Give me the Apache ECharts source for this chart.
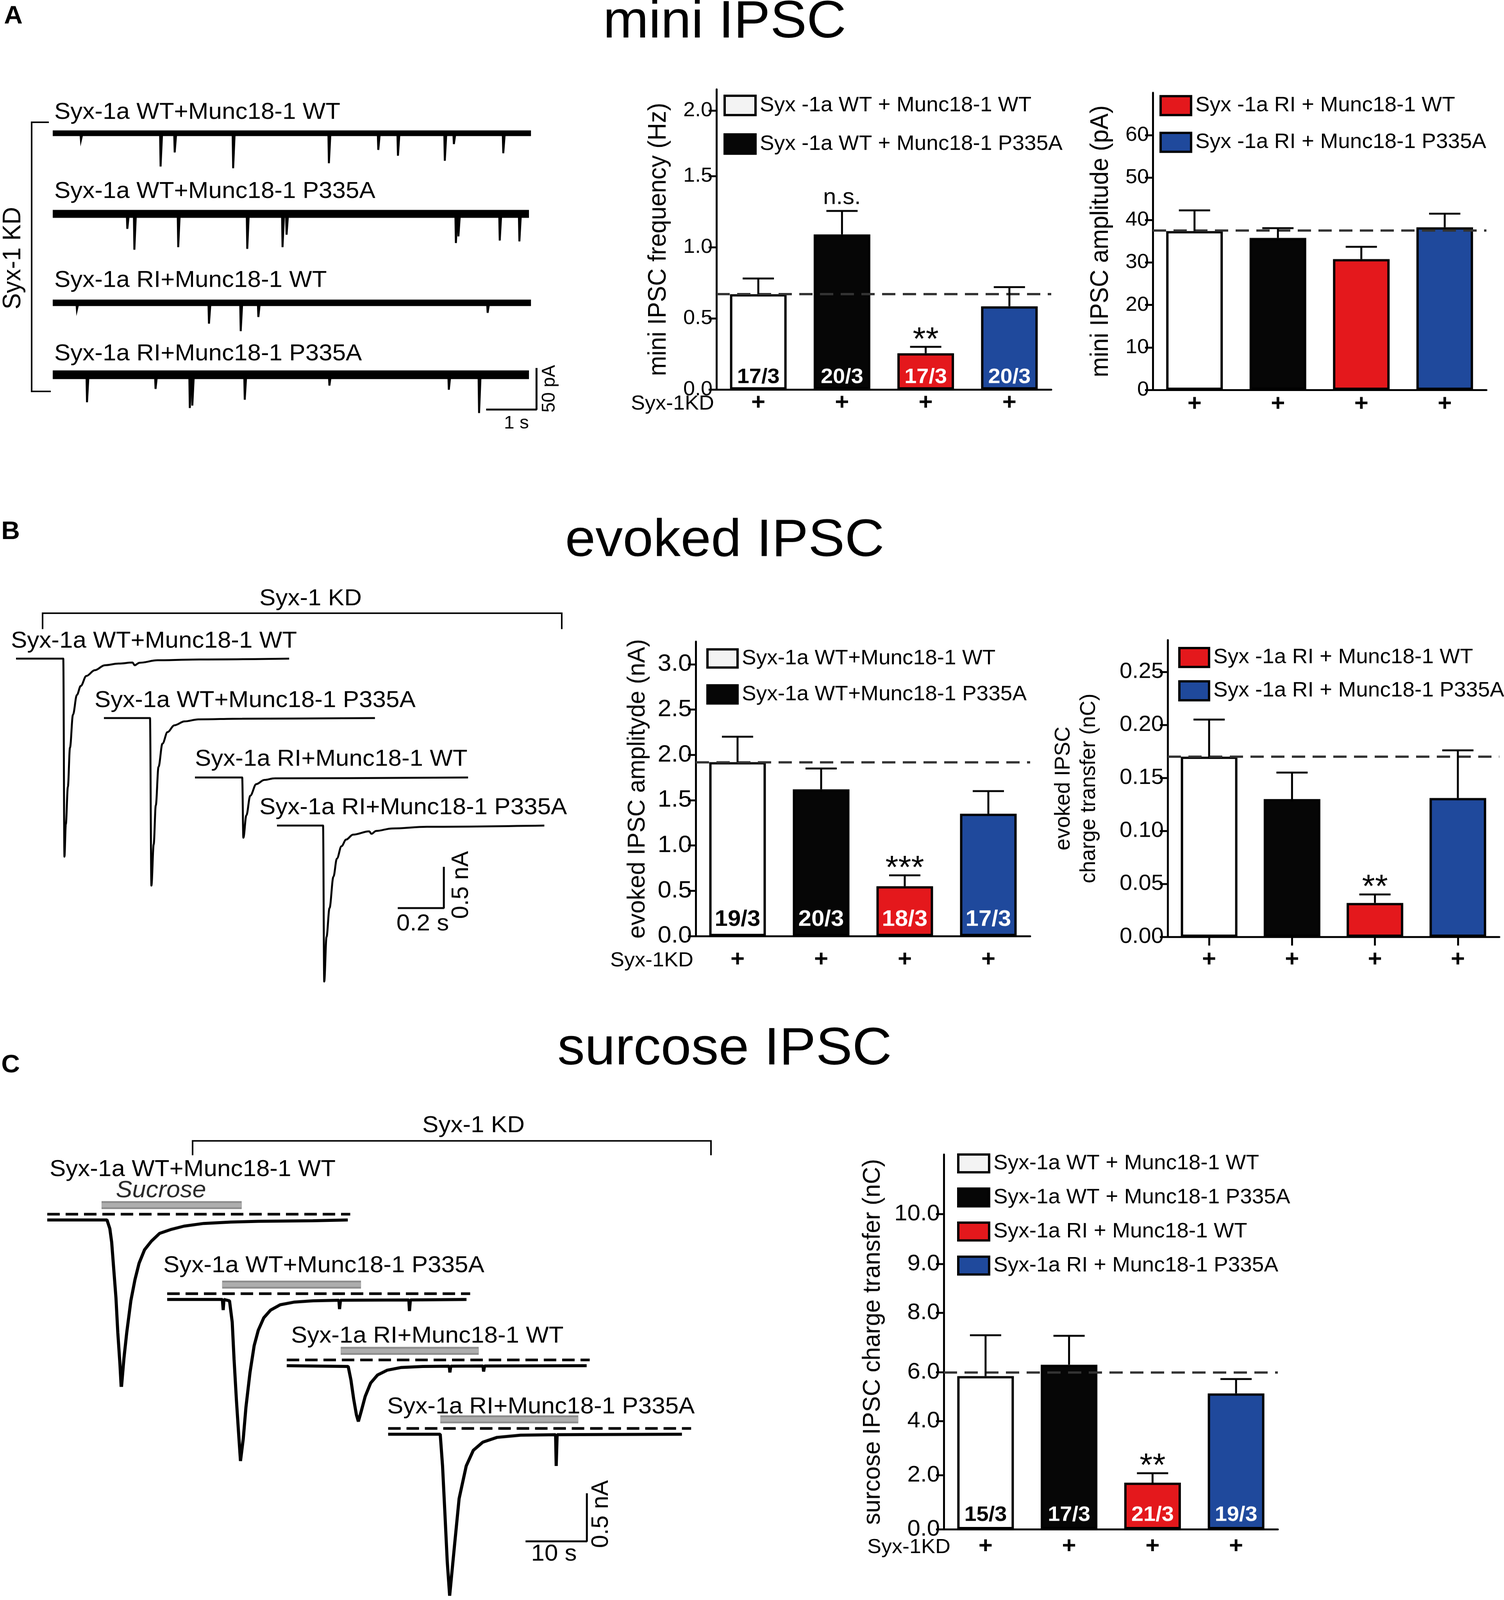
<!DOCTYPE html>
<html>
<head>
<meta charset="utf-8">
<script src="https://cdn.jsdelivr.net/npm/echarts@6/dist/echarts.min.js"></script>
<style>
html, body { margin: 0; padding: 0; background: #fff; overflow: hidden; }
#fig { width: 3850px; height: 4227px; transform-origin: 0 0; }
</style>
</head>
<body>
<div id="fig"></div>
<script>
// ---------------- data ----------------
var groups = ['WT/WT', 'WT/P335A', 'RI/WT', 'RI/P335A'];
var syxKD = ['+', '+', '+', '+'];
var traceNames = ['Syx-1a WT+Munc18-1 WT', 'Syx-1a WT+Munc18-1 P335A', 'Syx-1a RI+Munc18-1 WT', 'Syx-1a RI+Munc18-1 P335A'];
var namesSpaced = ['Syx -1a WT + Munc18-1 WT', 'Syx -1a WT + Munc18-1 P335A', 'Syx -1a RI + Munc18-1 WT', 'Syx -1a RI + Munc18-1 P335A'];
var namesC = ['Syx-1a WT + Munc18-1 WT', 'Syx-1a WT + Munc18-1 P335A', 'Syx-1a RI + Munc18-1 WT', 'Syx-1a RI + Munc18-1 P335A'];

// A: mini IPSC frequency (Hz); tick labels sit where the figure prints them
var miniFreq = [0.67, 1.09, 0.255, 0.585];
var miniFreqErr = [0.78, 1.255, 0.30, 0.72];
var miniFreqRef = 0.67;
var miniFreqN = ['17/3', '20/3', '17/3', '20/3'];
var miniFreqSig = ['', 'n.s.', '**', ''];
var miniFreqTickPos = [0, 0.5, 1.0, 1.5, 1.96];
var miniFreqTickText = ['0.0', '0.5', '1.0', '1.5', '2.0'];

// A: mini IPSC amplitude (pA)
var miniAmp = [37.4, 35.8, 30.8, 38.3];
var miniAmpErr = [42.3, 38.1, 33.7, 41.5];
var miniAmpRef = 37.6;
var miniAmpTicks = [0, 10, 20, 30, 40, 50, 60];

// B: evoked IPSC amplitude (nA)
var evAmp = [1.92, 1.62, 0.55, 1.35];
var evAmpErr = [2.2, 1.85, 0.67, 1.6];
var evAmpRef = 1.92;
var evAmpN = ['19/3', '20/3', '18/3', '17/3'];
var evAmpSig = ['', '', '***', ''];
var evAmpTicks = [0, 0.5, 1.0, 1.5, 2.0, 2.5, 3.0];

// B: evoked IPSC charge transfer (nC)
var evQ = [0.170, 0.130, 0.032, 0.131];
var evQErr = [0.205, 0.155, 0.040, 0.176];
var evQRef = 0.169;
var evQSig = ['', '', '**', ''];
var evQTicks = [0, 0.05, 0.10, 0.15, 0.20, 0.25];

// C: sucrose IPSC charge transfer (nC); tick labels sit where the figure prints them
var sucQ = [5.66, 6.08, 1.72, 5.02];
var sucQErr = [7.17, 7.15, 2.07, 5.55];
var sucQRef = 5.79;
var sucQN = ['15/3', '17/3', '21/3', '19/3'];
var sucQSig = ['', '', '**', ''];
var sucQTickPos = [0, 2, 4, 5.8, 8, 9.8, 11.65];
var sucQTickText = ['0.0', '2.0', '4.0', '6.0', '8.0', '9.0', '10.0'];

// A traces: length (s) and mini events [time s, amplitude pA]
var miniLen = [9.49, 9.45, 9.49, 9.45];
var miniEvents = [
  [[0.55, 8], [2.13, 40], [2.41, 23], [3.57, 42], [5.47, 36], [6.45, 20], [6.84, 27], [7.77, 33], [7.95, 13], [8.93, 24]],
  [[1.47, 18], [1.61, 43], [2.48, 40], [3.85, 42], [4.55, 40], [4.63, 25], [7.99, 35], [8.04, 27], [8.86, 32], [9.25, 33]],
  [[0.47, 8], [3.09, 25], [3.72, 34], [4.07, 17], [8.62, 12]],
  [[0.67, 33], [2.03, 17], [2.71, 40], [2.76, 37], [3.80, 30], [5.48, 13], [7.85, 18], [8.45, 46]]
];

// B traces: [time from stimulus s, current nA]
var evokedTraces = [
  [[-0.205, 0], [0, 0], [0.005, -2.40], [0.011, -2.01], [0.020, -1.55], [0.029, -1.08], [0.042, -0.68], [0.059, -0.44],
   [0.076, -0.33], [0.10, -0.21], [0.137, -0.14], [0.18, -0.08], [0.24, -0.06], [0.30, -0.047], [0.31, -0.08], [0.33, -0.05],
   [0.41, -0.02], [0.59, -0.01], [0.98, 0]],
  [[-0.2, 0], [0, 0], [0.006, -2.03], [0.016, -1.53], [0.025, -1.06], [0.037, -0.59], [0.054, -0.31], [0.076, -0.17],
   [0.106, -0.087], [0.15, -0.04], [0.21, -0.016], [0.4, -0.008], [0.976, 0]],
  [[-0.205, 0], [0, 0], [0.005, -0.73], [0.018, -0.46], [0.035, -0.22], [0.061, -0.08], [0.096, -0.03], [0.14, -0.01], [0.98, 0]],
  [[-0.2, 0], [0, 0], [0.005, -1.89], [0.015, -1.35], [0.028, -1.0], [0.045, -0.62], [0.06, -0.4], [0.08, -0.25], [0.1, -0.17],
   [0.13, -0.11], [0.2, -0.07], [0.21, -0.1], [0.23, -0.065], [0.3, -0.035], [0.45, -0.015], [0.96, 0]]
];

// C traces: [time s, current nA], sucrose application [on, off] s
var sucroseTraces = [
  [[0, 0], [9.74, 0], [10.2, -0.09], [10.5, -0.23], [10.8, -0.48], [11.2, -0.81], [11.5, -1.17], [11.85, -1.50], [12.07, -1.76],
   [12.5, -1.44], [12.96, -1.17], [13.63, -0.84], [14.3, -0.62], [14.97, -0.45], [15.86, -0.31], [16.98, -0.22], [18.3, -0.14],
   [20.1, -0.10], [22.3, -0.064], [25.5, -0.036], [29.9, -0.022], [34.4, -0.014], [43.3, -0.008], [49.0, 0]],
  [[0, 0], [9.0, 0], [9.13, -0.11], [9.25, 0], [10.16, -0.014], [10.6, -0.235], [10.9, -0.62], [11.28, -1.04], [11.64, -1.39],
   [11.95, -1.68], [12.4, -1.45], [12.84, -1.12], [13.5, -0.76], [14.18, -0.48], [14.85, -0.32], [15.75, -0.19], [16.87, -0.11],
   [18.43, -0.055], [20.66, -0.028], [23.8, -0.014], [28.0, -0.008], [28.1, -0.10], [28.25, -0.008], [39.4, -0.005], [39.5, -0.12],
   [39.65, -0.005], [48.8, 0]],
  [[0, 0], [10.02, -0.008], [10.47, -0.15], [10.91, -0.345], [11.36, -0.51], [11.68, -0.58], [12.12, -0.48], [12.79, -0.32],
   [13.68, -0.18], [14.8, -0.097], [16.36, -0.047], [18.6, -0.019], [22.2, -0.008], [26.5, -0.005], [26.6, -0.07], [26.75, -0.005],
   [32.0, -0.003], [32.1, -0.06], [32.25, -0.003], [48.9, 0]],
  [[0, 0], [8.49, 0], [8.87, -0.33], [9.26, -0.83], [9.64, -1.33], [10.03, -1.68], [10.8, -1.17], [11.57, -0.67], [12.73, -0.33],
   [13.89, -0.167], [15.43, -0.083], [17.75, -0.033], [21.6, -0.01], [27.3, -0.005], [27.4, -0.33], [27.55, -0.005], [47.9, 0]]
];
var sucroseOn = [[8.85, 31.7], [8.96, 31.6], [8.8, 31.3], [8.5, 31.0]];
var sucroseDashEnd = 49.4;

// ---------------- styling ----------------
var FONT = "'Liberation Sans', Arial, Helvetica, sans-serif";
var barColors = ['#ffffff', '#060606', '#e4181c', '#1f499c'];
var legendColors = ['#f3f3f3', '#060606', '#e4181c', '#1f499c'];

var gridList = [], xAxes = [], yAxes = [], seriesList = [], legends = [], graphics = [];

function addGrid(box, xa, ya) {
  var idx = gridList.length;
  gridList.push({ left: box[0], top: box[1], width: box[2], height: box[3], outerBoundsMode: 'none' });
  xa.gridIndex = idx; ya.gridIndex = idx;
  xAxes.push(xa); yAxes.push(ya);
  return idx;
}

function traceGrid(box, xr, yr) {
  return addGrid(box,
    { type: 'value', min: xr[0], max: xr[1], show: false },
    { type: 'value', min: yr[0], max: yr[1], show: false });
}

function text(x, y, str, size, opts) {
  opts = opts || {};
  graphics.push({
    type: 'text', x: x, y: y, rotation: opts.rot || 0, silent: true,
    style: {
      text: str, fontSize: size, fontFamily: FONT, fontWeight: opts.weight || 'normal',
      fontStyle: opts.italic ? 'italic' : 'normal', fill: opts.color || '#000',
      align: opts.align || 'left', verticalAlign: 'middle',
      textAlign: opts.align || 'left', textVerticalAlign: 'middle'
    }
  });
}

function poly(points, width) {
  graphics.push({ type: 'polyline', silent: true, shape: { points: points },
    style: { stroke: '#000', lineWidth: width, fill: null } });
}

function lineSeries(gi, data, width, color, dash) {
  seriesList.push({
    type: 'line', xAxisIndex: gi, yAxisIndex: gi, data: data, symbol: 'none', silent: true,
    lineStyle: { width: width, color: color, type: dash || 'solid', cap: 'butt' }, z: 3
  });
}

function barChart(c) {
  var gi = addGrid(c.box,
    {
      type: 'category', data: groups,
      axisLine: { lineStyle: { color: '#000', width: 5 } },
      axisTick: c.xTicks ? { show: true, alignWithLabel: true, length: 23, lineStyle: { color: '#000', width: 5 } } : { show: false },
      axisLabel: { margin: c.plusMargin, fontSize: 62, fontWeight: 'bold', color: '#000', fontFamily: FONT,
        formatter: function (v, i) { return syxKD[i]; } }
    },
    {
      type: 'value', min: 0, max: c.max,
      name: c.name, nameLocation: 'middle', nameGap: c.nameGap, nameRotate: 90,
      nameTextStyle: { fontSize: c.nameSize, color: '#000', fontFamily: FONT, lineHeight: c.nameLine || c.nameSize },
      axisLine: { show: true, lineStyle: { color: '#000', width: 5 } },
      axisTick: { show: true, length: 20, lineStyle: { color: '#000', width: 5 }, customValues: c.ticks },
      axisLabel: {
        customValues: c.ticks, fontSize: c.tickSize, color: '#000', fontFamily: FONT, margin: 10,
        showMinLabel: true, showMaxLabel: true,
        formatter: function (v) {
          var best = 0;
          for (var k = 0; k < c.ticks.length; k++) if (Math.abs(c.ticks[k] - v) < Math.abs(c.ticks[best] - v)) best = k;
          return c.tickText[best];
        }
      },
      splitLine: { show: false }
    });

  for (var k = 0; k < 4; k++) {
    var d = groups.map(function (g, j) { return j === k ? c.means[j] : '-'; });
    var s = {
      type: 'bar', name: c.names[k], xAxisIndex: gi, yAxisIndex: gi, data: d,
      barWidth: 145, barGap: '-100%', silent: true,
      itemStyle: { color: barColors[k], borderColor: '#000', borderWidth: 6 },
      label: c.nLabels ? {
        show: true, position: 'insideBottom', distance: c.nDist,
        fontSize: c.nSize, fontWeight: 'bold', fontFamily: FONT, color: k === 0 ? '#000' : '#fff',
        formatter: function (p) { return c.nLabels[p.dataIndex]; }
      } : { show: false },
      z: 2
    };
    if (k === 0) {
      s.markLine = {
        silent: true, symbol: ['none', 'none'], label: { show: false },
        lineStyle: { type: [34, 19], width: 6, color: '#333' },
        data: [{ yAxis: c.ref }], z: 4
      };
    }
    seriesList.push(s);
  }

  seriesList.push({
    type: 'custom', xAxisIndex: gi, yAxisIndex: gi, z: 5, silent: true,
    data: c.means.map(function (m, j) { return [j, m, c.err[j]]; }),
    renderItem: function (params, api) {
      var j = api.value(0);
      var b = api.coord([j, api.value(1)]), t = api.coord([j, api.value(2)]);
      var kids = [
        { type: 'line', shape: { x1: b[0], y1: b[1], x2: t[0], y2: t[1] }, style: { stroke: '#000', lineWidth: 5 } },
        { type: 'line', shape: { x1: t[0] - 40, y1: t[1], x2: t[0] + 40, y2: t[1] }, style: { stroke: '#000', lineWidth: 5 } }
      ];
      var sig = c.sig ? c.sig[j] : '';
      if (sig) {
        var star = sig.indexOf('*') >= 0;
        kids.push({ type: 'text', x: t[0], y: t[1] - (star ? 16 : 35),
          style: { text: sig, fontSize: star ? 85 : 60, fontFamily: FONT, fill: '#000',
            align: 'center', verticalAlign: 'middle', textAlign: 'center', textVerticalAlign: 'middle' } });
      }
      return { type: 'group', children: kids };
    }
  });

  legends.push({
    orient: 'vertical', left: c.legendPos[0], top: c.legendPos[1], padding: 0,
    itemGap: c.legendGap, itemWidth: c.legendBox[0], itemHeight: c.legendBox[1],
    icon: 'rect', selectedMode: false,
    textStyle: { fontSize: 55, color: '#000', fontFamily: FONT, padding: [0, 0, 0, 6] },
    itemStyle: { borderColor: '#000', borderWidth: 6 },
    data: c.legendIdx.map(function (k) { return { name: c.names[k], itemStyle: { color: legendColors[k] } }; })
  });

  if (c.kdLabel) text(c.kdLabel[0], c.kdLabel[1], 'Syx-1KD', 54, { align: 'right' });
}

function fmt(ticks, dec) { return ticks.map(function (v) { return v.toFixed(dec); }); }

// ---------------- bar charts ----------------
barChart({ box: [1834, 236, 857, 793], max: 2.11, ticks: miniFreqTickPos, tickText: miniFreqTickText, tickSize: 54,
  name: 'mini IPSC frequency (Hz)', nameSize: 64, nameGap: 116,
  means: miniFreq, err: miniFreqErr, ref: miniFreqRef, nLabels: miniFreqN, nSize: 56, nDist: 4, sig: miniFreqSig,
  names: namesSpaced, legendIdx: [0, 1], legendPos: [1852, 250], legendBox: [79, 51], legendGap: 45,
  plusMargin: 5, kdLabel: [1828, 1067] });

barChart({ box: [2951, 245, 854, 785], max: 70, ticks: miniAmpTicks, tickText: fmt(miniAmpTicks, 0), tickSize: 54,
  name: 'mini IPSC amplitude (pA)', nameSize: 64, nameGap: 101,
  means: miniAmp, err: miniAmpErr, ref: miniAmpRef,
  names: namesSpaced, legendIdx: [2, 3], legendPos: [2968, 251], legendBox: [78, 50], legendGap: 41,
  plusMargin: 7 });

barChart({ box: [1781, 1695, 856, 778], max: 3.25, ticks: evAmpTicks, tickText: fmt(evAmpTicks, 1), tickSize: 63,
  name: 'evoked IPSC amplityde (nA)', nameSize: 63, nameGap: 117,
  means: evAmp, err: evAmpErr, ref: evAmpRef, nLabels: evAmpN, nSize: 60, nDist: 14, sig: evAmpSig,
  names: traceNames, legendIdx: [0, 1], legendPos: [1808, 1712], legendBox: [77, 48], legendGap: 40,
  plusMargin: 32, kdLabel: [1775, 2538] });

barChart({ box: [2989, 1691, 849, 784], max: 0.28, ticks: evQTicks, tickText: fmt(evQTicks, 2), tickSize: 58,
  name: 'evoked IPSC\ncharge transfer (nC)', nameSize: 56, nameLine: 65, nameGap: 169,
  means: evQ, err: evQErr, ref: evQRef, sig: evQSig, xTicks: true,
  names: namesSpaced, legendIdx: [2, 3], legendPos: [3016, 1709], legendBox: [76, 50], legendGap: 32,
  plusMargin: 30 });

barChart({ box: [2416, 3050, 855, 990], max: 13.85, ticks: sucQTickPos, tickText: sucQTickText, tickSize: 60,
  name: 'surcose IPSC charge transfer (nC)', nameSize: 63, nameGap: 150,
  means: sucQ, err: sucQErr, ref: sucQRef, nLabels: sucQN, nSize: 56, nDist: 9, sig: sucQSig,
  names: namesC, legendIdx: [0, 1, 2, 3], legendPos: [2450, 3046], legendBox: [79, 47], legendGap: 35,
  plusMargin: 15, kdLabel: [2433, 4088] });

// ---------------- A: mini traces ----------------
var miniBase = [352, 565, 800, 990];
var miniBand = [15, 21, 17, 23];
var miniLabelY = [297, 506, 741, 935];
var miniGrids = [];
for (var i = 0; i < 4; i++) {
  var gi = traceGrid([135, miniBase[i] - 44, 9.8 * 129, 85 * 2.2], [0, 9.8], [-65, 20]);
  miniGrids.push(gi);
  lineSeries(gi, [[0, 0], [miniLen[i], 0]], miniBand[i], '#000');
  seriesList.push({
    type: 'custom', xAxisIndex: gi, yAxisIndex: gi, data: miniEvents[i], silent: true, z: 4,
    renderItem: function (params, api) {
      var t = api.value(0), a = api.value(1);
      return { type: 'polyline', shape: { points: [api.coord([t, 0]), api.coord([t + 0.01, -a]), api.coord([t + 0.04, 0])] },
        style: { stroke: '#000', lineWidth: 5, fill: null } };
    }
  });
  text(139, miniLabelY[i], traceNames[i], 62);
}
// 1 s / 50 pA scale bar
lineSeries(miniGrids[3], [[8.6, -41.8], [9.6, -41.8], [9.6, 8.2]], 5, '#000');
text(1322, 1119, '1 s', 48, { align: 'center' });
text(1407, 1027, '50 pA', 48, { align: 'center', rot: Math.PI / 2 });
poly([[125, 323], [81, 323], [81, 1034], [130, 1034]], 4);
text(34, 682, 'Syx-1 KD', 64, { align: 'center', rot: Math.PI / 2 });

// ---------------- B: evoked traces ----------------
var evStim = [162, 384, 620, 827];
var evBase = [1740, 1897, 2054, 2181];
var evLabel = [[28, 1694], [242, 1851], [499, 2006], [664, 2134]];
var evGrids = [];
for (var i = 0; i < 4; i++) {
  var gi = traceGrid([evStim[i] - 0.25 * 590, evBase[i] - 0.2 * 218, 1.25 * 590, 2.8 * 218], [-0.25, 1.0], [-2.6, 0.2]);
  evGrids.push(gi);
  seriesList.push({ type: 'line', xAxisIndex: gi, yAxisIndex: gi, data: evokedTraces[i], symbol: 'none', silent: true,
    smooth: 0.35, smoothMonotone: 'x', lineStyle: { width: 5, color: '#000' }, z: 3 });
  text(evLabel[i][0], evLabel[i][1], traceNames[i], 62);
}
// 0.2 s / 0.5 nA scale bar
lineSeries(evGrids[3], [[0.324, -1.0], [0.524, -1.0], [0.524, -0.5]], 5, '#000');
text(1082, 2441, '0.2 s', 62, { align: 'center' });
text(1181, 2338, '0.5 nA', 62, { align: 'center', rot: Math.PI / 2 });
poly([[109, 1662], [109, 1620], [1438, 1620], [1438, 1662]], 4);
text(795, 1582, 'Syx-1 KD', 62, { align: 'center' });

// ---------------- C: sucrose traces ----------------
var sucLeft = [121, 428, 734, 993.6];
var sucBase = [3223, 3433, 3608, 3789];
var sucLabel = [[127, 3090], [418, 3344], [745, 3530], [991, 3717]];
var sucGrids = [];
for (var i = 0; i < 4; i++) {
  var gi = traceGrid([sucLeft[i], sucBase[i] - 0.28 * 254, 50 * 15.7, 2.0 * 254], [0, 50], [-1.72, 0.28]);
  sucGrids.push(gi);
  lineSeries(gi, [[sucroseOn[i][0], 0.155], [sucroseOn[i][1], 0.155]], 21, '#8a8a8a');
  lineSeries(gi, [[sucroseOn[i][0], 0.155], [sucroseOn[i][1], 0.155]], 12, '#adadad');
  lineSeries(gi, [[0, 0.06], [sucroseDashEnd, 0.06]], 7, '#000', [32, 15]);
  lineSeries(gi, sucroseTraces[i], 8, '#000');
  text(sucLabel[i][0], sucLabel[i][1], traceNames[i], 62);
}
text(412, 3145, 'Sucrose', 63, { align: 'center', italic: true, color: '#2a2a2a' });
// 10 s / 0.5 nA scale bar
lineSeries(sucGrids[3], [[22.4, -1.114], [32.4, -1.114], [32.4, -0.614]], 5, '#000');
text(1418, 4106, '10 s', 62, { align: 'center' });
text(1539, 4000, '0.5 nA', 62, { align: 'center', rot: Math.PI / 2 });
poly([[493, 3052], [493, 3014], [1820, 3014], [1820, 3052]], 4);
text(1212, 2974, 'Syx-1 KD', 62, { align: 'center' });

// ---------------- titles and panel letters ----------------
text(1855, 60, 'mini IPSC', 140, { align: 'center' });
text(1855, 1430, 'evoked IPSC', 140, { align: 'center' });
text(1855, 2773, 'surcose IPSC', 140, { align: 'center' });
text(34, 44, 'A', 66, { align: 'center', weight: 'bold' });
text(27, 1406, 'B', 66, { align: 'center', weight: 'bold' });
text(27, 2815, 'C', 66, { align: 'center', weight: 'bold' });

// fit the 3850x4227 figure into the visible viewport if it is smaller
var el = document.getElementById('fig');
var vw = Math.min(window.innerWidth || 3850, document.documentElement.clientWidth || 3850);
var vh = Math.min(window.innerHeight || 4227, document.documentElement.clientHeight || 4227);
var sx = Math.min(1, vw / 3850), sy = Math.min(1, vh / 4227);
if (sx < 1 || sy < 1) el.style.transform = 'scale(' + sx + ',' + sy + ')';

var chart = echarts.init(el, null, { renderer: 'canvas', devicePixelRatio: 1 });
chart.setOption({
  animation: false,
  backgroundColor: '#fff',
  grid: gridList,
  xAxis: xAxes,
  yAxis: yAxes,
  legend: legends,
  series: seriesList,
  graphic: { elements: graphics }
});
</script>
</body>
</html>
